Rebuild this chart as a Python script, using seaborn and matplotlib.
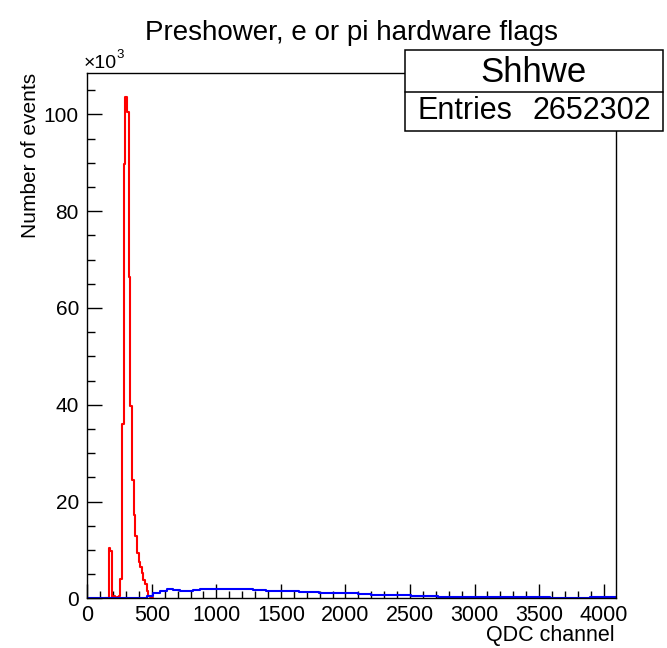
import numpy as np
import pandas as pd
import matplotlib
matplotlib.use("Agg")
import matplotlib.pyplot as plt
from matplotlib.patches import Rectangle
from matplotlib.ticker import MultipleLocator
import seaborn as sns

# ---- data (counts in units of 10^3) ----
red_bin_width = 12.8
red_first_edge = 140.8
red_counts = [0.0, 0.0, 10.3, 9.8, 0.3, 0.5, 0.1, 0.2, 0.4, 4.0,
              36.0, 89.8, 103.6, 100.4, 66.3, 39.8, 24.5, 17.3, 12.8, 9.3,
              7.5, 6.5, 5.3, 3.8, 3.0, 1.6, 0.5, 0.2, 0.0]

blue_bin_width = 51.2
blue_counts = [0.0, 0.0, 0.0, 0.0, 0.0, 0.0, 0.0, 0.0, 0.1, 0.5,
               1.0, 1.6, 1.9, 1.8, 1.6, 1.6, 1.8, 1.9, 1.85, 1.9,
               1.9, 1.85, 1.9, 1.85, 1.85, 1.8, 1.8, 1.6, 1.55, 1.5,
               1.5, 1.45, 1.4, 1.35, 1.2, 1.15, 1.1, 1.1, 1.05, 1.0,
               1.0, 0.95, 0.8, 0.75, 0.75, 0.7, 0.65, 0.65, 0.6, 0.55,
               0.4, 0.4, 0.38, 0.36, 0.35, 0.34, 0.33, 0.32, 0.3, 0.3,
               0.3, 0.28, 0.28, 0.27, 0.26, 0.25, 0.25, 0.24, 0.24, 0.23,
               0.05, 0.03, 0.02, 0.02, 0.02, 0.05, 0.25, 0.25, 0.25, 0.2]

title = "Preshower, e or pi hardware flags"
xlabel = "QDC channel"
ylabel = "Number of events"
stats_name = "Shhwe"
stats_entries = "2652302"
x_range = (0, 4096)
y_max = 108.5

# ---- build tables ----
red_edges = [float(e) for e in red_first_edge + red_bin_width * np.arange(len(red_counts) + 1)]
red_df = pd.DataFrame({"x": [(a + b) / 2 for a, b in zip(red_edges[:-1], red_edges[1:])],
                       "w": red_counts})
blue_edges = [float(e) for e in blue_bin_width * np.arange(len(blue_counts) + 1)]
blue_df = pd.DataFrame({"x": [(a + b) / 2 for a, b in zip(blue_edges[:-1], blue_edges[1:])],
                        "w": blue_counts})

sns.set_theme(style="white")
plt.rcParams["font.family"] = ["Liberation Sans", "DejaVu Sans"]
plt.rcParams["text.color"] = "black"
plt.rcParams["xtick.color"] = "black"
plt.rcParams["ytick.color"] = "black"
plt.rcParams["xtick.labelcolor"] = "black"
plt.rcParams["ytick.labelcolor"] = "black"

W, H = 667, 648
fig = plt.figure(figsize=(W / 100, H / 100), dpi=100)
ax = fig.add_axes([87.3 / W, 1 - 598.3 / H, (616 - 87.3) / W, (598.3 - 73.3) / H])

sns.histplot(data=red_df, x="x", weights="w", bins=red_edges, element="step",
             fill=False, color="#ff0000", linewidth=1.5, ax=ax)
sns.histplot(data=blue_df, x="x", weights="w", bins=blue_edges, element="step",
             fill=False, color="#0000ff", linewidth=1.5, ax=ax)

ax.set_xlim(*x_range)
ax.set_ylim(0, y_max)
ax.set_xlabel("")
ax.set_ylabel("")
ax.xaxis.set_major_locator(MultipleLocator(500))
ax.xaxis.set_minor_locator(MultipleLocator(100))
ax.yaxis.set_major_locator(MultipleLocator(20))
ax.yaxis.set_minor_locator(MultipleLocator(5))
ax.tick_params(axis="both", which="both", direction="in", color="black",
               width=1.0, bottom=True, left=True, top=False, right=False)
ax.tick_params(axis="x", which="major", length=10, labelsize=15.5, pad=5)
ax.tick_params(axis="x", which="minor", length=5)
ax.tick_params(axis="y", which="major", length=11, labelsize=15, pad=6)
ax.tick_params(axis="y", which="minor", length=5.5)
for s in ax.spines.values():
    s.set_color("black")
    s.set_linewidth(1.0)

# texts
fig.text(351 / W, 1 - 33 / H, title, ha="center", va="center", fontsize=20)
fig.text(615 / W, 1 - 635 / H, xlabel, ha="right", va="center", fontsize=15.5)
fig.text(30 / W, 1 - 73 / H, ylabel, ha="center", va="top", rotation=90, fontsize=15)
fig.text(84 / W, 1 - 64 / H, "\u00d710", ha="left", va="center", fontsize=14)
fig.text(116 / W, 1 - 55 / H, "3", ha="left", va="center", fontsize=9.5)

# stats box
bx0, bx1, by0, by1, bdiv = 405, 663, 50, 131, 92
fig.patches.append(Rectangle((bx0 / W, 1 - by1 / H), (bx1 - bx0) / W, (by1 - by0) / H,
                             transform=fig.transFigure, facecolor="white",
                             edgecolor="black", linewidth=1.1, zorder=5))
fig.lines.append(plt.Line2D([bx0 / W, bx1 / W], [1 - bdiv / H, 1 - bdiv / H],
                            transform=fig.transFigure, color="black", linewidth=1.1, zorder=6))
fig.text(534 / W, 1 - 72 / H, stats_name, ha="center", va="center", fontsize=25, zorder=7)
fig.text(418 / W, 1 - 111 / H, "Entries", ha="left", va="center", fontsize=22, zorder=7)
fig.text(651 / W, 1 - 111 / H, stats_entries, ha="right", va="center", fontsize=22, zorder=7)

fig.savefig("out.png", dpi=100, facecolor="white")
